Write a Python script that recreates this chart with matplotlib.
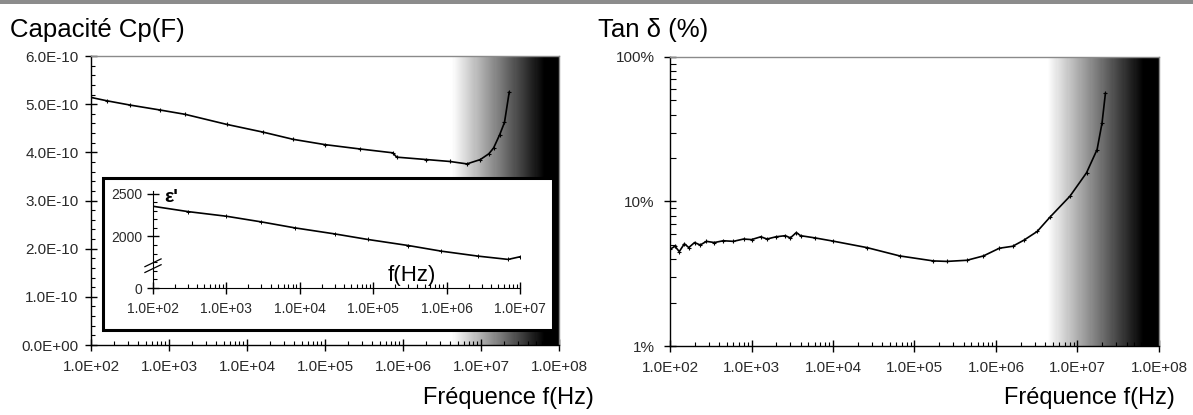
import numpy as np
import matplotlib
matplotlib.use('Agg')
import matplotlib.pyplot as plt
from matplotlib.colors import LinearSegmentedColormap
from matplotlib.patches import Rectangle
from matplotlib.ticker import FixedLocator, MultipleLocator, LogLocator, FuncFormatter, NullFormatter

plt.rcParams['font.family'] = ['Liberation Sans', 'DejaVu Sans']

# capacitance Cp (F) vs frequency
cp_freq = [100, 160, 320, 760, 1600, 5500, 16000, 39000, 1.0e5, 2.8e5, 7.4e5, 8.3e5,
           2.0e6, 4.0e6, 6.6e6, 9.8e6, 1.26e7, 1.45e7, 1.74e7, 2.0e7, 2.3e7]
cp_val = [5.14e-10, 5.07e-10, 4.98e-10, 4.88e-10, 4.79e-10, 4.58e-10, 4.42e-10, 4.27e-10,
          4.16e-10, 4.07e-10, 3.99e-10, 3.90e-10, 3.85e-10, 3.81e-10, 3.76e-10, 3.85e-10,
          3.97e-10, 4.09e-10, 4.37e-10, 4.62e-10, 5.25e-10]

# inset: permittivity eps' vs frequency
eps_freq = [100, 300, 1000, 3000, 8500, 30000, 85000, 3e5, 8.5e5, 2.7e6, 6.9e6, 1e7]
eps_val = [2352, 2290, 2236, 2170, 2101, 2030, 1965, 1895, 1829, 1771, 1733, 1764]

# loss tangent (%) vs frequency
tan_freq = [100, 115, 130, 150, 170, 200, 235, 280, 350, 450, 600, 800, 1000, 1300, 1550,
            2000, 2600, 3000, 3550, 4000, 6000, 1e4, 2.6e4, 6.6e4, 1.7e5, 2.5e5, 4.4e5,
            7e5, 1.1e6, 1.6e6, 2.2e6, 3.2e6, 4.6e6, 8.1e6, 1.29e7, 1.74e7, 2.0e7, 2.2e7]
tan_val = [4.67, 4.9, 4.5, 5.1, 4.8, 5.2, 5.0, 5.3, 5.2, 5.35, 5.3, 5.5, 5.45, 5.7, 5.5,
           5.7, 5.8, 5.6, 6.1, 5.8, 5.6, 5.32, 4.8, 4.2, 3.88, 3.85, 3.92,
           4.2, 4.75, 4.9, 5.4, 6.2, 7.8, 10.9, 15.8, 22.9, 34.9, 56]

x_ticks = [1e2, 1e3, 1e4, 1e5, 1e6, 1e7, 1e8]
inset_x_ticks = [1e2, 1e3, 1e4, 1e5, 1e6, 1e7]

W, H = 1193, 415
fig = plt.figure(figsize=(W / 100, H / 100), dpi=100)

tick_col = '#2a2a2a'
fr_fmt = FuncFormatter(lambda v, p: f'{v:.1E}')
grad_cmap = LinearSegmentedColormap.from_list('wb', ['white', 'black'])


def fpos(x0, y0, x1, y1):
    # pixel box -> figure fraction
    return [x0 / W, 1 - y1 / H, (x1 - x0) / W, (y1 - y0) / H]


def style_axes(ax):
    ax.set_xscale('log')
    ax.set_xlim(1e2, 1e8)
    ax.xaxis.set_major_locator(FixedLocator(x_ticks))
    ax.xaxis.set_minor_locator(LogLocator(base=10, subs=np.arange(2, 10)))
    ax.xaxis.set_minor_formatter(NullFormatter())
    ax.xaxis.set_major_formatter(fr_fmt)
    for s in ['top', 'right']:
        ax.spines[s].set_color('#8a8a8a')
        ax.spines[s].set_linewidth(1.0)
    for s in ['left', 'bottom']:
        ax.spines[s].set_color('black')
        ax.spines[s].set_linewidth(1.0)
    ax.tick_params(which='major', direction='inout', length=8, width=1, labelsize=11,
                   labelcolor=tick_col, pad=7)
    ax.tick_params(which='minor', direction='in', length=3, width=0.8)
    ax.tick_params(axis='y', which='major', pad=5)
    # gradient band at high frequency
    edges = np.logspace(6.62, 7.82, 90)
    shade = np.linspace(0, 1, len(edges) - 1)
    ylo, yhi = ax.get_ylim()
    ax.pcolormesh(edges, [ylo, yhi], shade[np.newaxis, :], cmap=grad_cmap,
                  vmin=0, vmax=1, shading='flat', zorder=0.5, rasterized=True)
    ax.axvspan(edges[-1], 1e8, color='black', lw=0, zorder=0.5)
    ax.set_ylim(ylo, yhi)
    ax.set_facecolor('white')


# --- left panel: capacitance ---
ax1 = fig.add_axes(fpos(91, 56, 559, 345))
ax1.set_ylim(0, 6e-10)
ax1.yaxis.set_major_locator(MultipleLocator(1e-10))
ax1.yaxis.set_minor_locator(MultipleLocator(0.2e-10))
ax1.yaxis.set_major_formatter(fr_fmt)
style_axes(ax1)
ax1.plot(cp_freq, cp_val, color='black', lw=1.2, marker='+', ms=3, mew=0.8, zorder=3)

# inset frame
ax1.add_patch(Rectangle((103 / W, 1 - 330 / H), 450 / W, 152 / H, transform=fig.transFigure,
                        facecolor='white', edgecolor='black', lw=2.2, clip_on=False, zorder=6))

# --- inset: permittivity ---
axi = fig.add_axes(fpos(153, 191, 520, 288))
axi.set_facecolor('none')
axi.set_xscale('log')
axi.set_xlim(1e2, 1e7)
axi.set_ylim(1400, 2530)
axi.xaxis.set_major_locator(FixedLocator(inset_x_ticks))
axi.xaxis.set_minor_locator(LogLocator(base=10, subs=np.arange(2, 10)))
axi.xaxis.set_minor_formatter(NullFormatter())
axi.xaxis.set_major_formatter(fr_fmt)
axi.yaxis.set_major_locator(FixedLocator([1400, 2000, 2500]))
axi.yaxis.set_major_formatter(FuncFormatter(lambda v, p: '0' if v < 1500 else f'{v:.0f}'))
axi.yaxis.set_minor_locator(MultipleLocator(100))
for s in ['top', 'right']:
    axi.spines[s].set_visible(False)
axi.tick_params(which='major', direction='inout', length=8, width=1, labelsize=10,
                labelcolor=tick_col, pad=6)
axi.tick_params(axis='y', which='major', pad=4)
axi.tick_params(which='minor', direction='in', length=3, width=0.8)
axi.plot(eps_freq, eps_val, color='black', lw=1.2, marker='+', ms=2.5, mew=0.7)
# axis break marks
for yb in [0.20, 0.26]:
    axi.plot([-0.022, 0.022], [yb - 0.04, yb + 0.04], transform=axi.transAxes,
             color='black', lw=0.9, clip_on=False)
axi.text(0.03, 0.93, "ε'", transform=axi.transAxes, fontsize=14, fontweight='bold',
         ha='left', va='center')
axi.text(0.705, 0.13, 'f(Hz)', transform=axi.transAxes, fontsize=16, ha='center', va='center')

# --- right panel: tan delta ---
ax2 = fig.add_axes(fpos(670, 57, 1159, 346))
ax2.set_yscale('log')
ax2.set_ylim(1, 100)
ax2.yaxis.set_major_locator(FixedLocator([1, 10, 100]))
ax2.yaxis.set_minor_locator(LogLocator(base=10, subs=np.arange(2, 10)))
ax2.yaxis.set_minor_formatter(NullFormatter())
ax2.yaxis.set_major_formatter(FuncFormatter(lambda v, p: f'{v:.0f}%'))
style_axes(ax2)
ax2.tick_params(axis='y', which='minor', direction='in', length=4)
ax2.tick_params(axis='y', which='major', pad=7)
ax2.plot(tan_freq, tan_val, color='black', lw=1.2, marker='+', ms=3, mew=0.8, zorder=3)

# titles and axis labels
fig.text(10 / W, 1 - 30 / H, 'Capacité Cp(F)', fontsize=18.5, ha='left', va='center')
fig.text(598 / W, 1 - 30 / H, 'Tan δ (%)', fontsize=18.5, ha='left', va='center')
fig.text(594 / W, 1 - 398 / H, 'Fréquence f(Hz)', fontsize=17, ha='right', va='center')
fig.text(1175 / W, 1 - 398 / H, 'Fréquence f(Hz)', fontsize=17, ha='right', va='center')

# thin grey band along the top edge
fig.add_artist(Rectangle((0, 1 - 4 / H), 1, 4 / H, transform=fig.transFigure,
                         facecolor='#8c8c8c', edgecolor='none'))

fig.savefig('out.png', dpi=100)
